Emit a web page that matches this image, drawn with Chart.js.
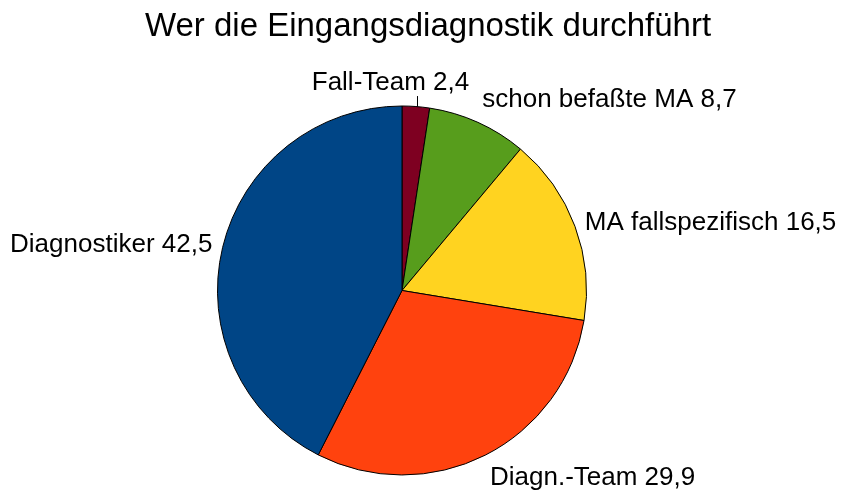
<!DOCTYPE html>
<html>
<head>
<meta charset="utf-8">
<script src="https://cdn.jsdelivr.net/npm/chart.js@4/dist/chart.umd.min.js"></script>
<style>
    html, body { margin: 0; padding: 0; background: #fff; }
    #wrap { width: 842px; height: 495px; }
</style>
</head>
<body>
<div id="wrap"><canvas id="chart"></canvas></div>
<script>
// --- Data (clockwise from 12 o'clock) ---
const titleText = 'Wer die Eingangsdiagnostik durchführt';
const categories = ['Fall-Team', 'schon befaßte MA', 'MA fallspezifisch', 'Diagn.-Team', 'Diagnostiker'];
const shares = [2.4, 8.7, 16.5, 29.9, 42.5];
const sliceColors = ['#7e0021', '#579d1c', '#ffd320', '#ff420e', '#004586'];

const FONT = '"Liberation Sans", Arial, sans-serif';

// --- Plugin: title + outside labels ---
const outsideLabels = {
    id: 'outsideLabels',
    afterDraw(chart) {
        const ctx = chart.ctx;
        ctx.save();

        // title
        ctx.fillStyle = '#000';
        ctx.font = '33px ' + FONT;
        ctx.textAlign = 'center';
        ctx.textBaseline = 'middle';
        ctx.fillText(titleText, 428, 27);

        ctx.font = '26px ' + FONT;
        const arcs = chart.getDatasetMeta(0).data;
        const gap = 10.5;

        // work out label boxes from slice geometry
        const boxes = arcs.map((arc, i) => {
            const mid = (arc.startAngle + arc.endAngle) / 2;
            const deg = ((mid + Math.PI / 2) * 180 / Math.PI + 360) % 360;
            const r = arc.outerRadius + gap;
            const ax = arc.x + Math.cos(mid) * r;
            const ay = arc.y + Math.sin(mid) * r;
            const text = categories[i] + ' ' + shares[i].toFixed(1).replace('.', ',');
            const w = ctx.measureText(text).width;
            const sector = Math.round(deg / 45) % 8; // 0 = top, 2 = right, 4 = bottom, 6 = left
            let align = 'center', base = 'middle';
            if (sector === 1 || sector === 2 || sector === 3) align = 'left';
            if (sector === 5 || sector === 6 || sector === 7) align = 'right';
            if (sector === 0 || sector === 1 || sector === 7) base = 'bottom';
            if (sector === 3 || sector === 4 || sector === 5) base = 'top';
            let left = align === 'left' ? ax : align === 'right' ? ax - w : ax - w / 2;
            return { arc, mid, ax, ay, text, w, align, base, left, shifted: false };
        });

        // simple overlap fix: push a label left of its clockwise neighbour
        for (let i = 0; i < boxes.length - 1; i++) {
            const a = boxes[i], b = boxes[i + 1];
            const sameRow = a.base === 'bottom' && b.base === 'bottom';
            if (sameRow && a.left + a.w > b.left) {
                a.left = b.left - 13 - a.w;
                a.shifted = true;
            }
        }

        boxes.forEach(b => {
            if (b.shifted) {
                // short vertical leader from the label down to the rim
                const lx = Math.round(b.ax) + 0.5;
                const dx = lx - b.arc.x;
                const rimY = b.arc.y - Math.sqrt(b.arc.outerRadius * b.arc.outerRadius - dx * dx);
                ctx.strokeStyle = '#000';
                ctx.lineWidth = 1;
                ctx.beginPath();
                ctx.moveTo(lx, rimY);
                ctx.lineTo(lx, b.ay);
                ctx.stroke();
            }
            ctx.fillStyle = '#000';
            ctx.textAlign = 'left';
            ctx.textBaseline = b.base;
            ctx.fillText(b.text, b.left, b.ay);
        });

        ctx.restore();
    }
};

const ctx = document.getElementById('chart').getContext('2d');
new Chart(ctx, {
    type: 'pie',
    data: {
        labels: categories,
        datasets: [{
            data: shares,
            backgroundColor: sliceColors,
            borderColor: '#000',
            borderWidth: 1
        }]
    },
    options: {
        responsive: true,
        maintainAspectRatio: false,
        animation: false,
        layout: { padding: { left: 217, right: 255, top: 105, bottom: 19 } },
        plugins: {
            legend: { display: false },
            tooltip: { enabled: false },
            title: { display: false }
        }
    },
    plugins: [outsideLabels]
});
</script>
</body>
</html>
